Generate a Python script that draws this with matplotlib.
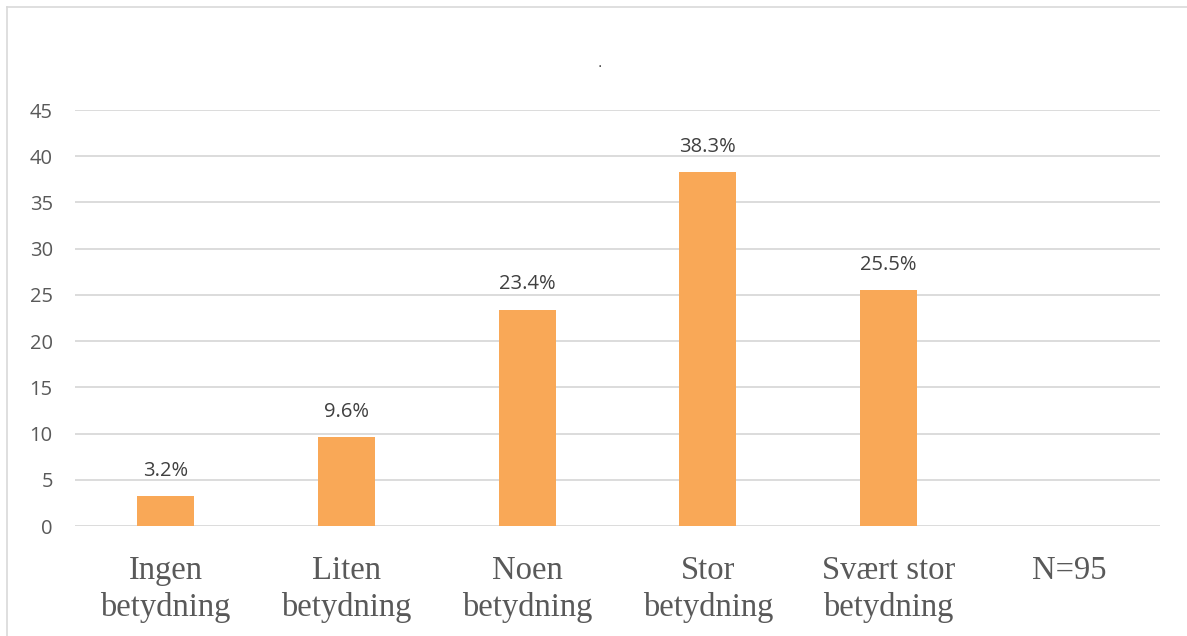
import matplotlib
matplotlib.use("Agg")
import matplotlib.pyplot as plt
from matplotlib.lines import Line2D

categories = ["Ingen\nbetydning", "Liten\nbetydning", "Noen\nbetydning",
              "Stor\nbetydning", "Svært stor\nbetydning", "N=95"]
values = [3.2, 9.6, 23.4, 38.3, 25.5, None]
yticks = [0, 5, 10, 15, 20, 25, 30, 35, 40, 45]

W, H = 1187, 636
fig = plt.figure(figsize=(W / 100, H / 100), dpi=100)
ax = fig.add_axes([75 / W, 1 - 526 / H, (1160 - 75) / W, (526 - 110) / H])

bar_color = "#F9A857"
grid_color = "#D9D9D9"
text_color = "#595959"

x = list(range(len(categories)))
for xi, v in zip(x, values):
    if v is None:
        continue
    ax.bar(xi, v, width=0.315, color=bar_color, zorder=3)
    ax.text(xi, v + 1.65, f"{v:.1f}%", ha="center", va="bottom",
            fontsize=14.5, color="#404040", family="Open Sans")

ax.set_xlim(-0.5, len(categories) - 0.5)
ax.set_ylim(0, 45)
ax.set_yticks(yticks)
ax.set_yticklabels([str(t) for t in yticks], fontsize=14.5, color=text_color,
                   family="Open Sans")
ax.set_xticks(x)
ax.set_xticklabels(categories, fontsize=23.5, color=text_color,
                   family="Liberation Serif", linespacing=1.26)
ax.tick_params(axis="both", length=0)
ax.tick_params(axis="y", pad=16)
ax.tick_params(axis="x", pad=21)
ax.yaxis.grid(True, color=grid_color, linewidth=1.3, zorder=0)
for s in ax.spines.values():
    s.set_visible(False)

# title placeholder
fig.text(600 / W, 1 - 63 / H, ".", ha="center", va="center", fontsize=10,
         color="#404040")

# chart frame (top and left edges)
fig.add_artist(Line2D([7 / W, 1.0], [1 - 7 / H, 1 - 7 / H], color="#D9D9D9",
                      linewidth=1.2, transform=fig.transFigure))
fig.add_artist(Line2D([7 / W, 7 / W], [0, 1 - 7 / H], color="#D9D9D9",
                      linewidth=1.2, transform=fig.transFigure))

fig.savefig("out.png", dpi=100, facecolor="white")
